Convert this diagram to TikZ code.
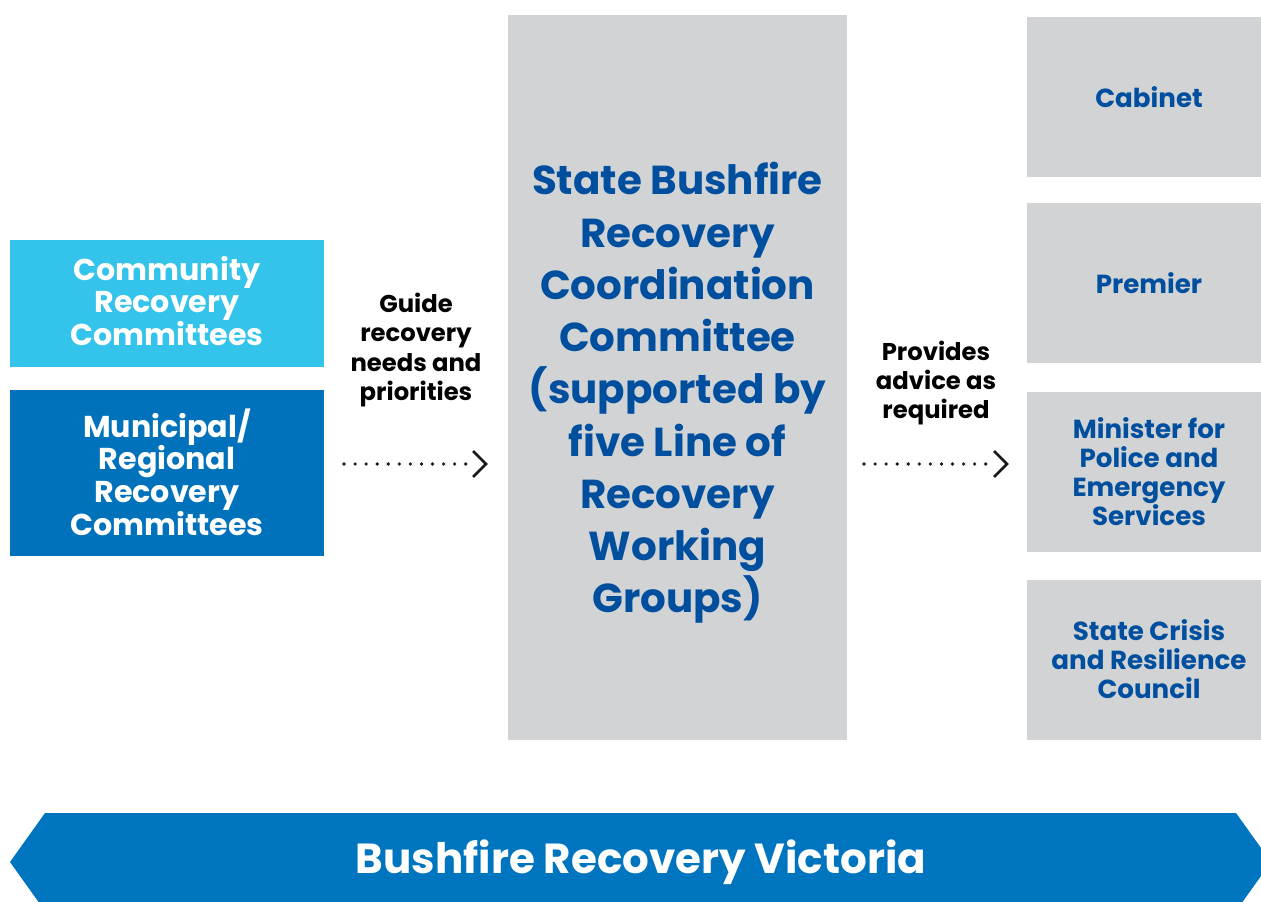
\documentclass[tikz,border=0pt]{standalone}
\usepackage{fontspec}
\setmainfont{Poppins}
\usetikzlibrary{arrows.meta}
\definecolor{cyanbox}{HTML}{33C3EB}
\definecolor{bluebox}{HTML}{0072BC}
\definecolor{greybox}{HTML}{D1D3D4}
\definecolor{navy}{HTML}{004F9F}
\definecolor{banner}{HTML}{0075BF}
\tikzset{
  px/.style={x=0.75pt,y=-0.75pt},
  leftbox/.style={draw=none,align=center,text=white,font=\bfseries\fontsize{22.6}{24.5}\selectfont},
  greyrect/.style={draw=none,align=center,text=navy,font=\bfseries\fontsize{19.6}{21.8}\selectfont},
  lbl/.style={align=center,text=black,font=\bfseries\fontsize{18.2}{21.8}\selectfont},
  conn/.style={line width=2.7pt,line cap=round,dash pattern=on 0pt off 8.3pt,black!90},
  chev/.style={line width=1.9pt,black!90}
}
\begin{document}
\begin{tikzpicture}[px]
\useasboundingbox (0,0) rectangle (1261,902);
\clip (0,0) rectangle (1261,902);
% left boxes
\fill[cyanbox] (10,240) rectangle (324,367);
\node[leftbox] (crc) at (167,301) {Community\\Recovery\\Committees};
\fill[bluebox] (10,390) rectangle (324,556);
\node[leftbox] (mrc) at (167,472) {Municipal/\\Regional\\Recovery\\Committees};
% center
\fill[greybox] (508,15) rectangle (847,740);
\node[align=center,text=navy,font=\bfseries\fontsize{30.3}{39.2}\selectfont] (sbrcc) at (677.5,393) {State Bushfire\\Recovery\\Coordination\\Committee\\(supported by\\five Line of\\Recovery\\Working\\Groups)};
% right boxes
\fill[greybox] (1027,17) rectangle (1261,177);
\node[greyrect] (cab) at (1149,97) {Cabinet};
\fill[greybox] (1027,203) rectangle (1261,363);
\node[greyrect] (prem) at (1149,283) {Premier};
\fill[greybox] (1027,392) rectangle (1261,552);
\node[greyrect] (min) at (1149,472) {Minister for\\Police and\\Emergency\\Services};
\fill[greybox] (1027,580) rectangle (1261,740);
\node[greyrect] (scrc) at (1149,659) {State Crisis\\and Resilience\\Council};
% labels
\node[lbl] (guide) at (416,350) {Guide\\recovery\\needs and\\priorities};
\node[lbl] (adv) at (936,383) {Provides\\advice as\\required};
% arrows
\coordinate (a1s) at (344,464);
\coordinate (a1e) at (470,464);
\coordinate (a1t) at (486,464);
\draw[conn] (a1s) -- (a1e);
\draw[chev] (473,451) -- (a1t) -- (473,477);
\coordinate (a2s) at (864,464);
\coordinate (a2e) at (990,464);
\coordinate (a2t) at (1007,464);
\draw[conn] (a2s) -- (a2e);
\draw[chev] (994,451) -- (a2t) -- (994,477);
% banner
\fill[banner] (45,813) -- (1236,813) -- (1271,862) -- (1236,911) -- (45,911) -- (10,862) -- cycle;
\node[text=white,font=\bfseries\fontsize{31.5}{36}\selectfont] (bvr) at (641,862) {Bushfire Recovery Victoria};
\end{tikzpicture}
\end{document}
